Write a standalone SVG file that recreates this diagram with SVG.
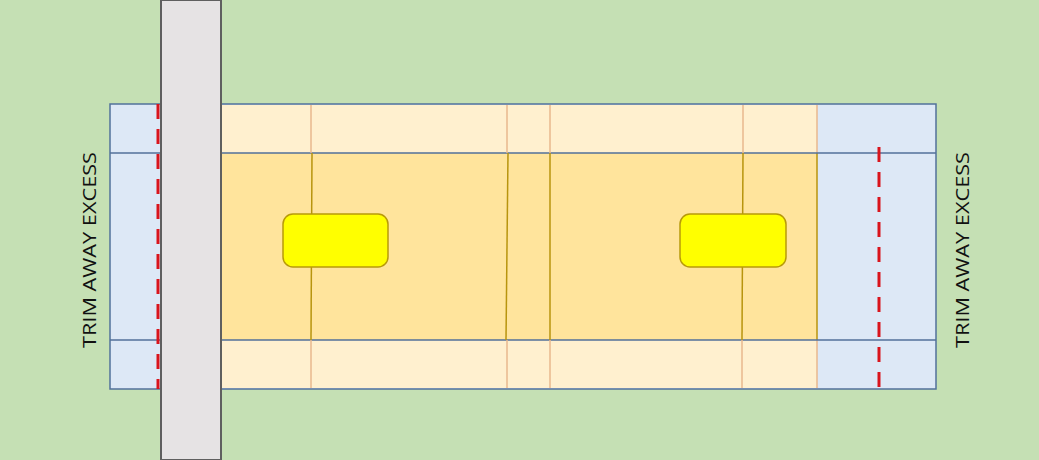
<svg xmlns="http://www.w3.org/2000/svg" width="1039" height="460" viewBox="0 0 1039 460">
<style>
.pale{fill:#fff0cf}
.mid{fill:#ffe49c}
.hline{stroke:#52719a;stroke-width:1.5}
.lightv{stroke:#e9b98e;stroke-width:1.5}
.darkv{stroke:#b8940e;stroke-width:1.5}
.cut{stroke:#d9141c;stroke-width:3;stroke-dasharray:15 10;fill:none}
.car{fill:#ffff00;stroke:#b89a0a;stroke-width:1.5}
.lbl{font-family:"Open Sans","Liberation Sans",sans-serif;font-size:18px;fill:#111}
</style>
<rect x="0" y="0" width="1039" height="460" fill="#c5e0b4"/>
<g id="trim-area">
<rect x="110" y="104" width="826" height="285" fill="#dde8f6" stroke="#52719a" stroke-width="1.5"/>
</g>
<g id="slab">
<rect class="pale" x="221" y="105" width="596" height="48"/>
<rect class="mid" x="221" y="153" width="596" height="187"/>
<rect class="pale" x="221" y="340" width="596" height="48"/>
<line class="lightv" x1="817" y1="105" x2="817" y2="153"/>
<line class="darkv" x1="817" y1="153" x2="817" y2="340"/>
<line class="lightv" x1="817" y1="340" x2="817" y2="388"/>
</g>
<g id="lines">
<line class="hline" x1="110" y1="153" x2="936" y2="153"/>
<line class="hline" x1="110" y1="340" x2="936" y2="340"/>
<line class="lightv" x1="311" y1="105" x2="311" y2="153"/>
<line class="darkv" x1="312" y1="153" x2="311" y2="340"/>
<line class="lightv" x1="311" y1="340" x2="311" y2="388"/>
<line class="lightv" x1="507" y1="105" x2="507" y2="153"/>
<line class="darkv" x1="508" y1="153" x2="506" y2="340"/>
<line class="lightv" x1="507" y1="340" x2="507" y2="388"/>
<line class="lightv" x1="550" y1="105" x2="550" y2="153"/>
<line class="darkv" x1="550" y1="153" x2="550" y2="340"/>
<line class="lightv" x1="550" y1="340" x2="550" y2="388"/>
<line class="lightv" x1="743" y1="105" x2="743" y2="153"/>
<line class="darkv" x1="743" y1="153" x2="742" y2="340"/>
<line class="lightv" x1="742" y1="340" x2="742" y2="388"/>
</g>
<g id="cut-lines">
<line class="cut" x1="158" y1="104" x2="158" y2="389"/>
<line class="cut" x1="879" y1="147" x2="879" y2="389"/>
</g>
<g id="road">
<rect x="161" y="0" width="60" height="460" fill="#e6e3e4" stroke="#5f5f5f" stroke-width="2"/>
</g>
<g id="car-left">
<rect class="car" x="283" y="214" width="105" height="53" rx="10"/>
</g>
<g id="car-right">
<rect class="car" x="680" y="214" width="106" height="53" rx="10"/>
</g>
<g id="label-left">
<text class="lbl" transform="translate(96,250) rotate(-90)" text-anchor="middle" textLength="196" lengthAdjust="spacingAndGlyphs">TRIM AWAY EXCESS</text>
</g>
<g id="label-right">
<text class="lbl" transform="translate(969,250) rotate(-90)" text-anchor="middle" textLength="196" lengthAdjust="spacingAndGlyphs">TRIM AWAY EXCESS</text>
</g>
</svg>
